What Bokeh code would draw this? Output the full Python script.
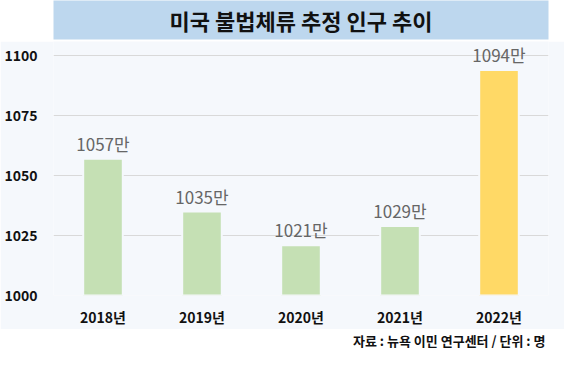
from bokeh.plotting import figure
from bokeh.models import FactorRange, FixedTicker, LabelSet, ColumnDataSource, Range1d
from bokeh.layouts import column
from bokeh.core.properties import value
from bokeh.embed import file_html
from bokeh.resources import INLINE

# ---- data ----
years = ["2018년", "2019년", "2020년", "2021년", "2022년"]
population = [1057, 1035, 1021, 1029, 1094]
value_labels = ["1057만", "1035만", "1021만", "1029만", "1094만"]
bar_colors = ["#c5e0b4", "#c5e0b4", "#c5e0b4", "#c5e0b4", "#ffd966"]
y_ticks = [1000, 1025, 1050, 1075, 1100]
title_text = "미국 불법체류 추정 인구 추이"
source_text = "자료 : 뉴욕 이민 연구센터 / 단위 : 명"

FONT = value("Noto Sans CJK KR")
W = 564
BAND = "#bdd7ee"
BG = "#f5f8fc"

# ---- title band ----
t = figure(width=W, height=41, x_range=Range1d(0, 1), y_range=Range1d(0, 1),
           toolbar_location=None, output_backend="svg",
           x_axis_type=None, y_axis_type=None, min_border=0, min_border_bottom=2)
t.grid.visible = False
t.outline_line_color = None
t.background_fill_color = BAND
t.border_fill_color = "white"
t.text(x=[0.5], y=[0.5], text=[title_text], text_align="center", text_baseline="middle",
       text_font=FONT, text_font_style="bold", text_font_size="22px", text_color="#111111")

# ---- main chart ----
src = ColumnDataSource(dict(x=years, top=population, lab=value_labels, color=bar_colors))
p = figure(width=W, height=288, x_range=FactorRange(*years, range_padding=0),
           y_range=Range1d(1000, 1105.9), toolbar_location=None, output_backend="svg",
           min_border_left=53, min_border_right=16, min_border_top=0, min_border_bottom=29)
p.background_fill_color = BG
p.border_fill_color = BG
p.outline_line_color = None
p.xgrid.visible = False
p.ygrid.grid_line_color = "#d9d9d9"
p.ygrid.grid_line_width = 1
p.yaxis.ticker = FixedTicker(ticks=y_ticks)
for ax in (p.xaxis, p.yaxis):
    ax.axis_line_color = None
    ax.major_tick_line_color = None
    ax.minor_tick_line_color = None
    ax.major_label_text_font = "Noto Sans CJK KR"
    ax.major_label_text_font_style = "bold"
    ax.major_label_text_font_size = "14px"
    ax.major_label_text_color = "#111111"
p.yaxis.major_label_standoff = 10
p.xaxis.major_label_standoff = 5

p.vbar(x="x", top="top", bottom=1000, width=0.4, source=src,
       fill_color="color", line_color=BG, line_width=2)
p.add_layout(LabelSet(x="x", y="top", text="lab", source=src, y_offset=8,
                      text_align="center", text_baseline="alphabetic",
                      text_font=FONT, text_font_size="17px", text_color="#666666"))

# ---- footer ----
f = figure(width=W, height=25, x_range=Range1d(0, 1), y_range=Range1d(0, 1),
           toolbar_location=None, output_backend="svg",
           x_axis_type=None, y_axis_type=None, min_border=0)
f.grid.visible = False
f.outline_line_color = None
f.background_fill_color = "white"
f.border_fill_color = "white"
f.text(x=[1], y=[0.55], text=[source_text], text_align="right", text_baseline="middle",
       x_offset=-3, text_font=FONT, text_font_style="bold", text_font_size="13px",
       text_color="#111111")

layout = column(t, p, f, spacing=0)
open("out.html", "w").write(file_html(layout, INLINE))
